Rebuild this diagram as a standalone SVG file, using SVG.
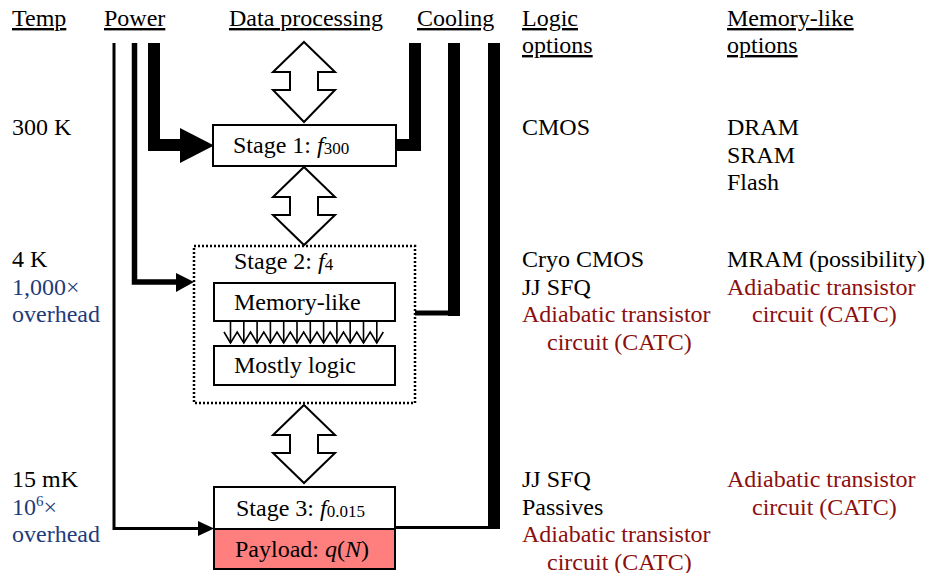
<svg xmlns="http://www.w3.org/2000/svg" width="928" height="573" viewBox="0 0 928 573">
<style>
text{font-family:"Liberation Serif","Times New Roman",serif;font-size:24px;fill:#000}
.h{text-decoration:underline}
.nv{fill:#1f3b7a}
.rd{fill:#8b0f0f}
.box{fill:#fff;stroke:#000;stroke-width:2}
.ln{fill:none;stroke:#000;stroke-linejoin:miter;stroke-linecap:butt}
.dbl{fill:#fff;stroke:#000;stroke-width:2;stroke-linejoin:miter}
.sub{font-size:17px}
</style>
<rect width="928" height="573" fill="#fff"/>
<g id="headers">
<text class="h" x="12" y="26">Temp</text>
<text class="h" x="104" y="26">Power</text>
<text class="h" x="229" y="26">Data processing</text>
<text class="h" x="417" y="26">Cooling</text>
<text class="h" x="522" y="26">Logic</text>
<text class="h" x="522" y="53">options</text>
<text class="h" x="727" y="26">Memory-like</text>
<text class="h" x="727" y="53">options</text>
</g>
<g id="temps">
<text x="12" y="135">300 K</text>
<text x="12" y="267">4 K</text>
<text class="nv" x="12" y="294.5">1,000×</text>
<text class="nv" x="12" y="322">overhead</text>
<text x="12" y="487">15 mK</text>
<text class="nv" x="12" y="514.5">10<tspan font-size="15" dy="-9">6</tspan><tspan dy="9">×</tspan></text>
<text class="nv" x="12" y="542">overhead</text>
</g>
<g id="connectors">
<path class="ln" d="M114 43 V528.5 H200" stroke-width="3"/>
<polygon points="198,521 214,528.5 198,536"/>
<path class="ln" d="M134.5 43 V282 H180" stroke-width="5.5"/>
<polygon points="176,273 194,282 176,292"/>
<path class="ln" d="M154 43 V145 H182" stroke-width="12"/>
<polygon points="180,128 214,145.5 180,163"/>
<path class="ln" d="M415 43 V145 H396" stroke-width="12"/>
<line class="ln" x1="454" y1="43" x2="454" y2="316" stroke-width="12"/>
<line class="ln" x1="415" y1="313" x2="455" y2="313" stroke-width="5"/>
<line class="ln" x1="494" y1="43" x2="494" y2="529" stroke-width="12"/>
<line class="ln" x1="395" y1="527.5" x2="490" y2="527.5" stroke-width="3"/>
<polygon class="dbl" points="304,42 335,72 318,72 318,90 335,90 304,122 273,90 290,90 290,72 273,72"/>
<polygon class="dbl" points="304,167 335,197 318,197 318,215 335,215 304,245 273,215 290,215 290,197 273,197"/>
<polygon class="dbl" points="304,405 335,435 318,435 318,453 335,453 304,483 273,453 290,453 290,435 273,435"/>
<g class="ln" stroke-width="1.6">
<path d="M230.5 321 V343 M243.8 321 V343 M257.1 321 V343 M270.4 321 V343 M283.7 321 V343 M297 321 V343 M310.3 321 V343 M323.6 321 V343 M336.9 321 V343 M350.2 321 V343 M363.5 321 V343 M376.8 321 V343"/>
<path d="M224 332 L230.5 343 L237.2 332 L243.8 343 L250.5 332 L257.1 343 L263.8 332 L270.4 343 L277 332 L283.7 343 L290.3 332 L297 343 L303.7 332 L310.3 343 L317 332 L323.6 343 L330.2 332 L336.9 343 L343.5 332 L350.2 343 L356.8 332 L363.5 343 L370.2 332 L376.8 343 L383.3 332"/>
</g>
</g>
<g id="stage1">
<rect class="box" x="213" y="125" width="183" height="41"/>
<text x="233" y="153">Stage 1: <tspan font-style="italic">f</tspan><tspan class="sub" dy="1">300</tspan></text>
</g>
<g id="stage2">
<rect x="194" y="246" width="221" height="157" fill="none" stroke="#000" stroke-width="2.5" stroke-dasharray="2 2"/>
<text x="234" y="269">Stage 2: <tspan font-style="italic">f</tspan><tspan class="sub" dy="1">4</tspan></text>
</g>
<g id="memory">
<rect class="box" x="214" y="283" width="181" height="38"/>
<text x="234" y="310">Memory-like</text>
</g>
<g id="logic">
<rect class="box" x="214" y="346" width="181" height="39"/>
<text x="234" y="373">Mostly logic</text>
</g>
<g id="stage3">
<rect class="box" x="214" y="487" width="181" height="42"/>
<text x="236" y="516">Stage 3: <tspan font-style="italic">f</tspan><tspan class="sub" dy="1">0.015</tspan></text>
</g>
<g id="payload">
<rect x="214" y="529" width="181" height="40" fill="#ff7f7f" stroke="#000" stroke-width="2"/>
<text x="235" y="557">Payload: <tspan font-style="italic">q</tspan>(<tspan font-style="italic">N</tspan>)</text>
</g>
<g id="logic-options">
<text x="522" y="135">CMOS</text>
<text x="522" y="267">Cryo CMOS</text>
<text x="522" y="294.5">JJ SFQ</text>
<text class="rd" x="522" y="322">Adiabatic transistor</text>
<text class="rd" x="547" y="349.5">circuit (CATC)</text>
<text x="522" y="487">JJ SFQ</text>
<text x="522" y="514.5">Passives</text>
<text class="rd" x="522" y="542">Adiabatic transistor</text>
<text class="rd" x="547" y="569.5">circuit (CATC)</text>
</g>
<g id="memory-options">
<text x="727" y="135">DRAM</text>
<text x="727" y="162.5">SRAM</text>
<text x="727" y="190">Flash</text>
<text x="727" y="267">MRAM (possibility)</text>
<text class="rd" x="727" y="294.5">Adiabatic transistor</text>
<text class="rd" x="752" y="322">circuit (CATC)</text>
<text class="rd" x="727" y="487">Adiabatic transistor</text>
<text class="rd" x="752" y="514.5">circuit (CATC)</text>
</g>
</svg>
